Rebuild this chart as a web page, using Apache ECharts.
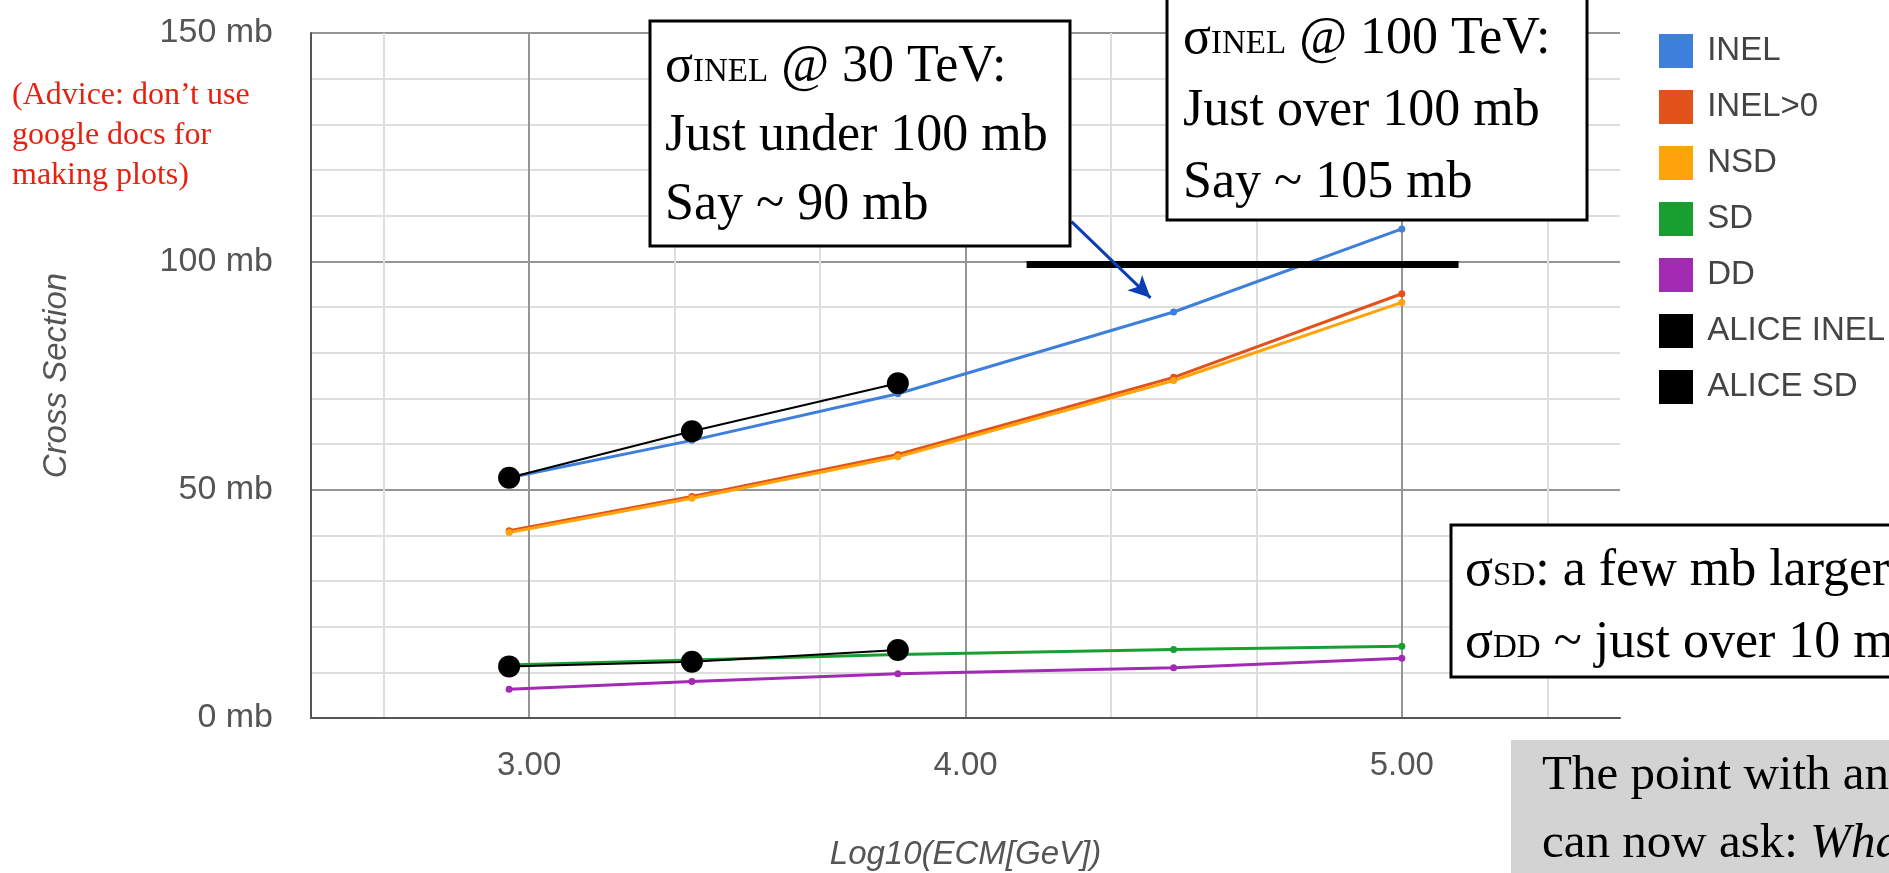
<!DOCTYPE html>
<html>
<head>
<meta charset="utf-8">
<script src="https://cdn.jsdelivr.net/npm/echarts@6/dist/echarts.min.js"></script>
<style>
  html, body { margin: 0; padding: 0; background: #ffffff; }
  #chart { width: 1889px; height: 873px; }
</style>
</head>
<body>
<div id="chart"></div>
<script>
// Centre-of-mass energy as log10(E/GeV): 0.9, 2.36, 7, 30 and 100 TeV
const logEcm = [2.954, 3.373, 3.845, 4.477, 5.0];

// Model cross sections (mb)
const inel    = [52.6, 60.8, 71.0, 88.9, 107.1];
const inelGt0 = [41.0, 48.5, 57.7, 74.6, 92.9];
const nsd     = [40.6, 48.1, 57.2, 73.9, 91.0];
const sd      = [11.6, 12.7, 13.9, 15.0, 15.7];
const dd      = [6.3, 8.0, 9.7, 11.0, 13.1];

// ALICE measurements (mb)
const aliceLogEcm = [2.954, 3.373, 3.845];
const aliceInel   = [52.6, 62.8, 73.3];
const aliceSd     = [11.3, 12.3, 14.9];

const seriesNames  = ['INEL', 'INEL>0', 'NSD', 'SD', 'DD', 'ALICE INEL', 'ALICE SD'];
const seriesColors = ['#3f7fdc', '#e2531c', '#ffa30a', '#17a030', '#a32bb4', '#000000', '#000000'];

// Axis ticks
const xTickValues = [3, 4, 5];
const xTickLabels = ['3.00', '4.00', '5.00'];
const yTickValues = [0, 50, 100, 150];
const yTickLabels = ['0 mb', '50 mb', '100 mb', '150 mb'];

// Hand-drawn annotations, in data units
const refLineMb   = 99.3;
const refLineFrom = 4.14;
const refLineTo   = 5.13;
const arrowFrom   = [4.243, 108.7];
const arrowTo     = [4.424, 92.0];

const pairs = (xs, ys) => xs.map((x, i) => [x, ys[i]]);
const near = (a, b) => Math.abs(a - b) < 1e-6;

const SANS  = '"Liberation Sans", Arial, sans-serif';
const SERIF = '"Liberation Serif", "Times New Roman", serif';
const AXIS_TEXT = '#555555';
const MAJOR = '#959595';
const MINOR = '#dedede';
const CLEAR = 'rgba(0,0,0,0)';

function modelSeries(idx, values) {
  return {
    name: seriesNames[idx],
    type: 'line',
    data: pairs(logEcm, values),
    color: seriesColors[idx],
    symbol: 'circle',
    symbolSize: 7,
    lineStyle: { width: 3, color: seriesColors[idx] },
    itemStyle: { color: seriesColors[idx] },
    animation: false,
    silent: true
  };
}

function aliceSeries(idx, values) {
  return {
    name: seriesNames[idx],
    type: 'line',
    data: pairs(aliceLogEcm, values),
    color: seriesColors[idx],
    symbol: 'circle',
    symbolSize: 22,
    lineStyle: { width: 2, color: '#000' },
    itemStyle: { color: '#000' },
    animation: false,
    silent: true
  };
}

const inelSeries = modelSeries(0, inel);
inelSeries.markLine = {
  silent: true,
  animation: false,
  label: { show: false },
  emphasis: { disabled: true },
  data: [
    [
      { coord: [refLineFrom, refLineMb], symbol: 'none', lineStyle: { color: '#000', width: 7, type: 'solid' } },
      { coord: [refLineTo, refLineMb], symbol: 'none' }
    ],
    [
      { coord: arrowFrom, symbol: 'none', lineStyle: { color: '#0b3eb4', width: 3, type: 'solid' } },
      { coord: arrowTo, symbol: 'arrow', symbolSize: [16, 22] }
    ]
  ]
};

function noteBox(x, y, w, h, fill, stroke) {
  return {
    type: 'rect', z: 100,
    shape: { x: x, y: y, width: w, height: h },
    style: { fill: fill, stroke: stroke, lineWidth: stroke ? 3 : 0 }
  };
}

function noteText(x, y, text, size, lineHeight) {
  return {
    type: 'text', z: 101, x: x, y: y,
    style: {
      text: text,
      fill: '#000',
      verticalAlign: 'top',
      rich: {
        m:   { fontFamily: SERIF, fontSize: size, lineHeight: lineHeight, fill: '#000' },
        i:   { fontFamily: SERIF, fontSize: size, lineHeight: lineHeight, fontStyle: 'italic', fill: '#000' },
        sub: { fontFamily: SERIF, fontSize: Math.round(size * 0.63), padding: [10, 0, 0, 0], fill: '#000' }
      }
    }
  };
}

const option = {
  backgroundColor: '#ffffff',
  animation: false,
  grid: { left: 311, right: 269, top: 33, bottom: 155, containLabel: false, outerBoundsMode: 'none' },
  legend: {
    data: seriesNames,
    orient: 'vertical',
    left: 1654, top: 29,
    icon: 'rect',
    itemWidth: 34, itemHeight: 34, itemGap: 22,
    selectedMode: false,
    formatter: ' {name}',
    textStyle: { fontFamily: SANS, fontSize: 33, color: '#444' }
  },
  xAxis: {
    type: 'value',
    min: 2.5, max: 5.5, interval: 1 / 6,
    name: 'Log10(ECM[GeV])',
    nameLocation: 'middle',
    nameGap: 120,
    nameTextStyle: { fontFamily: SANS, fontSize: 33, fontStyle: 'italic', color: AXIS_TEXT },
    axisLine: { show: true, onZero: false, lineStyle: { color: '#555', width: 2 } },
    axisTick: { show: false },
    axisLabel: {
      fontFamily: SANS, fontSize: 33, color: AXIS_TEXT, margin: 31,
      formatter: v => {
        const i = xTickValues.findIndex(t => near(t, v));
        return i >= 0 ? xTickLabels[i] : '';
      }
    },
    splitLine: {
      show: true,
      lineStyle: { width: 2, color: [CLEAR, MINOR, CLEAR, MAJOR, CLEAR, MINOR] }
    }
  },
  yAxis: {
    type: 'value',
    min: 0, max: 150, interval: 10,
    name: 'Cross Section',
    nameLocation: 'middle',
    nameRotate: 90,
    nameGap: 238,
    nameTextStyle: { fontFamily: SANS, fontSize: 33, fontStyle: 'italic', color: AXIS_TEXT },
    axisLine: { show: true, lineStyle: { color: '#555', width: 2 } },
    axisTick: { show: false },
    axisLabel: {
      fontFamily: SANS, fontSize: 34, color: AXIS_TEXT, margin: 38,
      formatter: v => {
        const i = yTickValues.findIndex(t => near(t, v));
        return i >= 0 ? yTickLabels[i] : '';
      }
    },
    splitLine: { show: true, lineStyle: { width: 2, color: [MAJOR, MINOR, MINOR, MINOR, MINOR] } }
  },
  series: [
    inelSeries,
    modelSeries(1, inelGt0),
    modelSeries(2, nsd),
    modelSeries(3, sd),
    modelSeries(4, dd),
    aliceSeries(5, aliceInel),
    aliceSeries(6, aliceSd)
  ],
  graphic: {
    elements: [
      {
        type: 'text', z: 101, x: 12, y: 76,
        style: {
          text: '(Advice: don\u2019t use\ngoogle docs for\nmaking plots)',
          font: '32px ' + SERIF,
          lineHeight: 40,
          fill: '#e8200f',
          verticalAlign: 'top'
        }
      },
      noteBox(650, 21, 420, 225, '#ffffff', '#000'),
      noteText(665, 33, '{m|σ}{sub|INEL}{m| @ 30 TeV:}\n{m|Just under 100 mb}\n{m|Say ~ 90 mb}', 52, 69),
      noteBox(1167, -10, 420, 230, '#ffffff', '#000'),
      noteText(1183, 3, '{m|σ}{sub|INEL}{m| @ 100 TeV:}\n{m|Just over 100 mb}\n{m|Say ~ 105 mb}', 52, 72),
      noteBox(1451, 525, 500, 152, '#ffffff', '#000'),
      noteText(1465, 535, '{m|σ}{sub|SD}{m|: a few mb larger}\n{m|σ}{sub|DD}{m| ~ just over 10 mb}', 52, 72),
      noteBox(1511, 740, 420, 140, '#d3d3d3', null),
      noteText(1542, 742, '{m|The point with an}\n{m|can now ask: }{i|What}', 49, 68)
    ]
  }
};

const chart = echarts.init(document.getElementById('chart'), null, { renderer: 'canvas' });
chart.setOption(option);
</script>
</body>
</html>
